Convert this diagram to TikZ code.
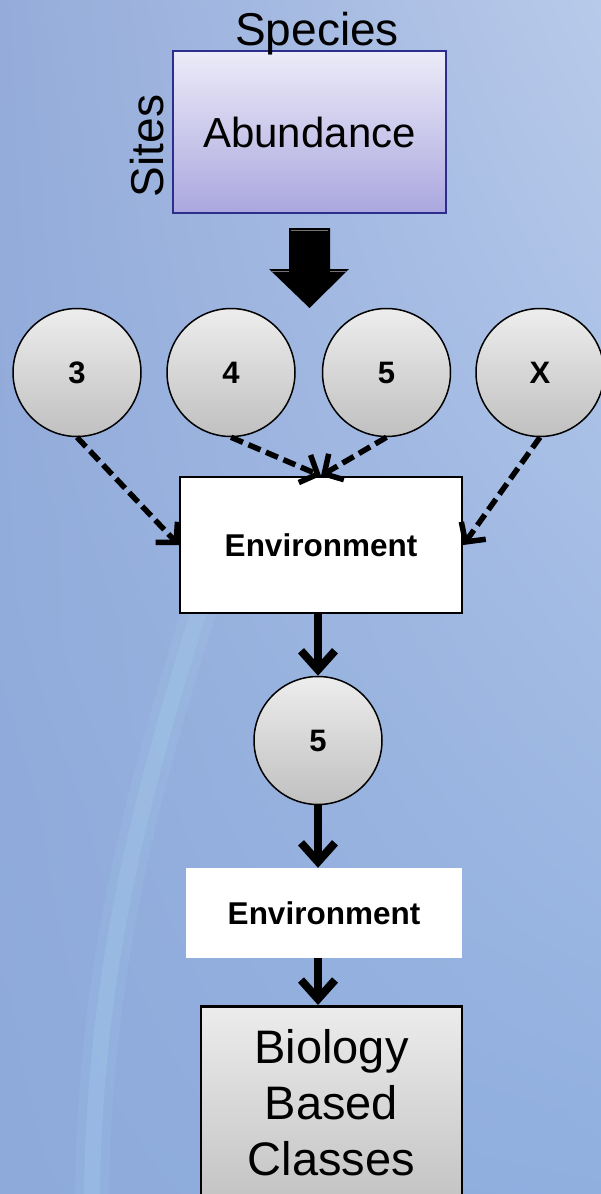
\documentclass[tikz,border=0pt]{standalone}
\usepackage{fontspec}
\setmainfont{Liberation Sans}
\usetikzlibrary{arrows.meta,shadings}

\definecolor{bgul}{HTML}{95ACDA}
\definecolor{bgur}{HTML}{B8CAEA}
\definecolor{bgll}{HTML}{8DAADB}
\definecolor{bglr}{HTML}{90AFDF}
\definecolor{streakc}{HTML}{A4CCEC}
\definecolor{abhi}{HTML}{ECEBF8}
\definecolor{ablo}{HTML}{ABA7DF}
\definecolor{abline}{HTML}{2B2E8C}
\definecolor{ballhi}{HTML}{EDEDED}
\definecolor{balllo}{HTML}{C0C0C0}
\definecolor{biohi}{HTML}{ECECEC}
\definecolor{biolo}{HTML}{C4C4C4}

\tikzset{
  ball/.style={circle,draw=black,line width=1.5pt,minimum size=128pt,inner sep=0pt,
    top color=ballhi,bottom color=balllo,font=\fontsize{31}{35}\selectfont\bfseries},
  envbox/.style={rectangle,fill=white,inner sep=0pt,font=\fontsize{31.5}{36}\selectfont\bfseries},
  flow/.style={-{Straight Barb[length=19pt,width=34pt]},line width=8pt},
  feed/.style={-{Straight Barb[length=14pt,width=30pt]},line width=5.5pt,dash pattern=on 13pt off 6pt},
}

\begin{document}
\begin{tikzpicture}[x=1pt,y=-1pt]
  \useasboundingbox (0,0) rectangle (601,1194);
  % background
  \shade[upper left=bgul,upper right=bgur,lower left=bgll,lower right=bglr] (0,0) rectangle (601,1194);
  \draw[streakc,line width=34pt,opacity=0.18] (222,540) .. controls (150,760) and (95,950) .. (92,1194);
  \draw[streakc,line width=16pt,opacity=0.3] (222,540) .. controls (150,760) and (95,950) .. (92,1194);

  % data table
  \node[rectangle,draw=abline,line width=1.8pt,top color=abhi,bottom color=ablo,
        minimum width=273pt,minimum height=162pt,font=\fontsize{42}{50}\selectfont] (abund) at (309.5,132) {Abundance};
  \node[anchor=base,font=\fontsize{46}{55}\selectfont] (species) at (317,45) {Species};
  \node[anchor=base,rotate=90,font=\fontsize{46}{55}\selectfont] (sites) at (163,146) {Sites};

  % block arrow
  \fill[black] (289,228) -- (330,228) -- (330,269) -- (349,269) -- (309.5,308) -- (269,269) -- (289,269) -- cycle;
  \draw[black!55,line width=1pt] (291,230) -- (328,230) (272,271) -- (289,271) (330,271) -- (346,271);

  % groups
  \node[ball] (three) at (77,372.5) {3};
  \node[ball] (four) at (231,372.5) {4};
  \node[ball] (five) at (386.5,372.5) {5};
  \node[ball] (ex) at (540,372.5) {X};

  \node[envbox,draw=black,line width=2.5pt,minimum width=282pt,minimum height=136pt] (env1) at (321,545) {Environment};
  \node[ball] (best) at (318,740.5) {5};
  \node[envbox,minimum width=276pt,minimum height=90pt] (env2) at (324,913) {Environment};
  \node[rectangle,draw=black,line width=2.5pt,top color=biohi,bottom color=biolo,anchor=north,
        minimum width=261pt,inner ysep=23pt,align=center,
        font=\fontsize{47}{56}\selectfont] (bio) at (331.5,1005) {Biology\\Based\\Classes};

  \draw[feed] (three.south) -- (env1.west);
  \draw[feed] (four.south) -- (env1.north);
  \draw[feed] (five.south) -- (env1.north);
  \draw[feed] (ex.south) -- (env1.east);
  \draw[flow] (best.north |- env1.south) -- (best.north);
  \draw[flow] (best.south) -- (best.south |- env2.north);
  \draw[flow] (best.south |- env2.south) -- (best.south |- bio.north);
\end{tikzpicture}
\end{document}
